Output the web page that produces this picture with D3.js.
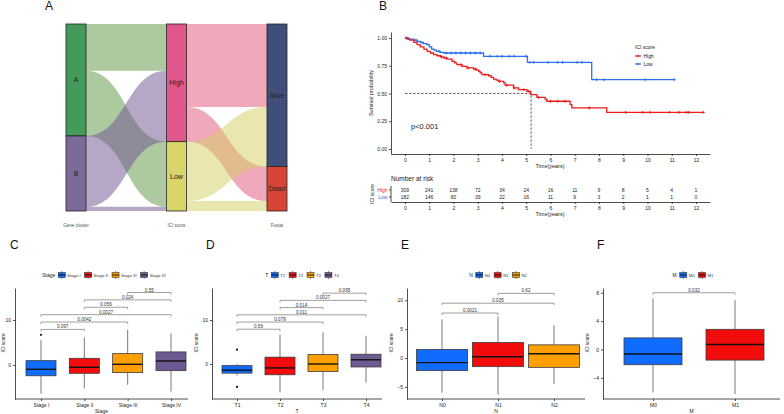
<!DOCTYPE html>
<html><head><meta charset="utf-8">
<script src="https://cdn.jsdelivr.net/npm/d3@7"></script>
<style>body{margin:0;background:#fff;} svg{display:block;font-family:"Liberation Sans",Arial,sans-serif;}</style>
</head><body><svg id="c" width="784" height="414"></svg>
<script>
// ================= DATA =================
// Panel A: alluvial
const sankeyAxes = ["Gene cluster","ICI score","Fustat"];
const geneCluster = ["A","B"];
const iciScore = ["High","Low"];
const fustat = ["Alive","Dead"];
const flow1From = ["A","A","B","B"];
const flow1To   = ["High","Low","High","Low"];
const flow1N    = [123,171,186,11];
const flow2From = ["High","High","Low","Low"];
const flow2To   = ["Alive","Dead","Alive","Dead"];
const flow2N    = [218,91,156,26];

// Panel B: Kaplan-Meier
const kmGroups = ["High","Low"];
const highTime = [0,0.1,0.2,0.36,0.5,0.63,0.78,0.91,1.05,1.18,1.32,1.46,1.6,1.73,1.94,2.05,2.14,2.35,2.55,2.83,2.95,3.04,3.1,3.17,3.45,3.55,3.65,3.76,3.86,4.07,4.13,4.48,4.68,5.03,5.19,5.44,5.78,5.85,6.81,6.88,8.32,12.3];
const highSurv = [1.0,0.99,0.98,0.96,0.94,0.92,0.90,0.88,0.865,0.85,0.84,0.83,0.82,0.81,0.79,0.775,0.76,0.745,0.73,0.72,0.71,0.70,0.685,0.67,0.66,0.645,0.63,0.62,0.61,0.595,0.575,0.55,0.535,0.52,0.49,0.465,0.45,0.43,0.40,0.37,0.33,0.33];
const highCensT = [1.5,1.7,2.3,2.6,2.9,3.3,3.9,4.2,4.5,4.9,5.1,5.5,6.0,6.3,6.6,7.6,9.1,9.8,10.1,10.9,11.3,11.6,11.7,12.3];
const lowTime = [0,0.15,0.36,0.5,0.63,0.75,0.9,1.0,1.1,1.2,1.3,1.45,1.6,3.24,5.05,7.7,11.1];
const lowSurv = [1.0,0.99,0.98,0.97,0.96,0.95,0.94,0.92,0.90,0.89,0.88,0.87,0.865,0.835,0.78,0.625,0.625];
const lowCensT = [0.05,0.45,0.7,1.4,1.7,1.9,2.1,2.3,2.5,2.7,2.9,3.1,3.5,3.8,4.0,4.3,4.5,5.0,5.15,5.3,5.9,6.3,6.5,7.1,7.3,7.9,8.2,9.9,11.1];
const riskTimes = [0,1,2,3,4,5,6,7,8,9,10,11,12];
const riskHigh = [309,241,138,72,34,24,16,11,9,8,5,4,1];
const riskLow  = [182,146,82,39,22,16,11,9,3,2,1,1,0];
const pText = "p<0.001";
const medianTime = 5.2;

// Panel C: Stage  [lower whisker, Q1, median, Q3, upper whisker]
const stageCats = ["Stage I","Stage II","Stage III","Stage IV"];
const stageStats = [[-6.4,-2.4,-0.96,0.96,5.56],[-5.2,-1.85,-0.52,1.48,6.1],[-4.4,-1.7,0.15,2.52,7.8],[-5.9,-1.26,0.89,2.9,7.0]];
const stageOut = [[6.7],[],[],[]];
const stagePairs = [[0,1],[0,2],[0,3],[1,2],[1,3],[2,3]];
const stageP = ["0.097","0.0042","0.0027","0.056","0.024","0.55"];

// Panel D: T
const tCats = ["T1","T2","T3","T4"];
const tStats = [[-2.6,-2.07,-1.4,-0.37,0],[-6.44,-2.44,-0.89,1.56,6.67],[-5.9,-1.7,0,2.15,7.2],[-4.2,-0.67,0.96,2.22,6.4]];
const tOut = [[3.26,-5.2],[],[],[]];
const tPairs = [[0,1],[0,2],[0,3],[1,2],[1,3],[2,3]];
const tP = ["0.56","0.079","0.011","0.014","0.0027","0.095"];

// Panel E: N
const nCats = ["N0","N1","N2"];
const nStats = [[-6.0,-2.17,-0.79,1.5,6.7],[-6.3,-1.48,0.23,2.69,7.2],[-4.5,-1.6,0.75,2.29,5.7]];
const nOut = [[],[],[]];
const nPairs = [[0,1],[0,2],[1,2]];
const nP = ["0.0021","0.035","0.62"];

// Panel F: M
const mCats = ["M0","M1"];
const mStats = [[-6.06,-2.15,-0.65,1.63,7.2],[-6.3,-1.5,0.7,2.84,7.0]];
const mOut = [[],[]];
const mPairs = [[0,1]];
const mP = ["0.032"];

// ================= DRAW =================
const svg = d3.select("#c");
const FONT_TXT = "#222";

function letter(t,x,y){ svg.append("text").attr("x",x).attr("y",y).attr("font-size",12).attr("fill","#111").text(t); }
letter("A",45,10); letter("B",379,10);
letter("C",10,249); letter("D",206,249); letter("E",401,249); letter("F",597,249);

// ---------- Panel A ----------
(function(){
  const yTop=24, yBot=211, w=20;
  const ax = d3.scalePoint().domain(sankeyAxes).range([66,267]);
  const total = d3.sum(flow1N);
  const ys = d3.scaleLinear().domain([0,total]).range([yTop,yBot]);
  const stratColor = {A:"#449A5B",B:"#7C6A9B",High:"#E1578B",Low:"#D8D56B",Alive:"#404F7A",Dead:"#D74634"};
  const flowColor = {A:"#5A9442",B:"#6E508F",High:"#E05478",Low:"#D6CE62"};
  const levels = [geneCluster, iciScore, fustat];
  // stratum totals
  const totals = [{}, {}, {}];
  geneCluster.forEach(k=>totals[0][k]=d3.sum(flow1N.filter((n,i)=>flow1From[i]===k)));
  iciScore.forEach(k=>totals[1][k]=d3.sum(flow1N.filter((n,i)=>flow1To[i]===k)));
  fustat.forEach(k=>totals[2][k]=d3.sum(flow2N.filter((n,i)=>flow2To[i]===k)));
  const starts = [{}, {}, {}];
  levels.forEach((lv,a)=>{ let c=0; lv.forEach(k=>{starts[a][k]=c; c+=totals[a][k];}); });

  function drawFlows(from,to,n,a,lvFrom,lvTo){
    const idx = d3.range(n.length);
    const srcOff={}, tgtOff={};
    const srcPos={}, tgtPos={};
    // source side: ordered by target
    lvFrom.forEach(f=>{ let c=starts[a][f]; lvTo.forEach(t=>{ idx.filter(i=>from[i]===f&&to[i]===t).forEach(i=>{srcPos[i]=c; c+=n[i];}); }); });
    lvTo.forEach(t=>{ let c=starts[a+1][t]; lvFrom.forEach(f=>{ idx.filter(i=>from[i]===f&&to[i]===t).forEach(i=>{tgtPos[i]=c; c+=n[i];}); }); });
    const x0 = ax(sankeyAxes[a])+w, x1 = ax(sankeyAxes[a+1]);
    const xm=(x0+x1)/2;
    idx.forEach(i=>{
      const a0=ys(srcPos[i]), a1=ys(srcPos[i]+n[i]), b0=ys(tgtPos[i]), b1=ys(tgtPos[i]+n[i]);
      const p=`M${x0},${a0}C${xm},${a0} ${xm},${b0} ${x1},${b0}L${x1},${b1}C${xm},${b1} ${xm},${a1} ${x0},${a1}Z`;
      svg.append("path").attr("d",p).attr("fill",flowColor[from[i]]).attr("fill-opacity",0.5);
    });
  }
  drawFlows(flow1From,flow1To,flow1N,0,geneCluster,iciScore);
  drawFlows(flow2From,flow2To,flow2N,1,iciScore,fustat);
  levels.forEach((lv,a)=>{
    const x=ax(sankeyAxes[a]);
    lv.forEach(k=>{
      const y0=ys(starts[a][k]), y1=ys(starts[a][k]+totals[a][k]);
      svg.append("rect").attr("x",x).attr("y",y0).attr("width",w).attr("height",y1-y0)
        .attr("fill",stratColor[k]).attr("stroke","#222").attr("stroke-width",0.8);
      svg.append("text").attr("x",x+w/2).attr("y",(y0+y1)/2+2.5).attr("text-anchor","middle")
        .attr("font-size",7).attr("fill","#222").text(k);
    });
    svg.append("line").attr("x1",x).attr("x2",x+w).attr("y1",yTop-0.6).attr("y2",yTop-0.6).attr("stroke","#aaa").attr("stroke-width",0.8);
    svg.append("text").attr("x",x+w/2).attr("y",227).attr("text-anchor","middle").attr("font-size",4.5).attr("fill","#555").text(sankeyAxes[a]);
  });
})();

// ---------- Panel B ----------
(function(){
  const red="#EE1C1C", blue="#2B6FEB";
  const xk = d3.scaleLinear().domain([-0.577,12.577]).range([391,710]);
  const yk = d3.scaleLinear().domain([-0.045,1.054]).range([154,32]);
  const gx = svg.append("g").attr("transform","translate(0,154)")
    .call(d3.axisBottom(xk).tickValues(riskTimes).tickSize(2).tickSizeOuter(0).tickPadding(2));
  const gy = svg.append("g").attr("transform","translate(391,0)")
    .call(d3.axisLeft(yk).tickValues([0,0.25,0.5,0.75,1]).tickFormat(d3.format(".2f")).tickSize(2).tickSizeOuter(0).tickPadding(2));
  [gx,gy].forEach(g=>{ g.selectAll("text").attr("font-size",5).attr("fill",FONT_TXT).attr("font-family",null);
    g.selectAll("line,path").attr("stroke","#222").attr("stroke-width",0.8); });
  svg.append("text").attr("x",550).attr("y",168).attr("text-anchor","middle").attr("font-size",5.5).attr("fill",FONT_TXT).text("Time(years)");
  svg.append("text").attr("transform","translate(373,93) rotate(-90)").attr("text-anchor","middle").attr("font-size",5.5).attr("fill",FONT_TXT).text("Survival probability");
  // median
  svg.append("path").attr("d",`M${xk(0)},${yk(0.5)}H${xk(medianTime)}V${yk(0)}`).attr("fill","none")
    .attr("stroke","#222").attr("stroke-width",0.7).attr("stroke-dasharray","2.5,1.5");
  const line = d3.line().x(d=>xk(d[0])).y(d=>yk(d[1])).curve(d3.curveStepAfter);
  function survAt(T,S,t){ let s=S[0]; for(let i=0;i<T.length;i++){ if(T[i]<=t) s=S[i]; } return s; }
  function curve(T,S,C,col){
    svg.append("path").attr("d",line(T.map((t,i)=>[t,S[i]]))).attr("fill","none").attr("stroke",col).attr("stroke-width",1.3);
    C.forEach(t=>{
      svg.append("path").attr("transform",`translate(${xk(t)},${yk(survAt(T,S,t))})`)
        .attr("d","M-1.6,0H1.6M0,-1.6V1.6").attr("stroke",col).attr("stroke-width",0.8);
    });
  }
  curve(lowTime,lowSurv,lowCensT,blue);
  curve(highTime,highSurv,highCensT,red);
  svg.append("text").attr("x",411).attr("y",129).attr("font-size",7.5).attr("fill",FONT_TXT).text(pText);
  // legend
  svg.append("text").attr("x",635).attr("y",49).attr("font-size",5).attr("fill",FONT_TXT).text("ICI score");
  [[kmGroups[0],red,56],[kmGroups[1],blue,64]].forEach(([lab,col,yy])=>{
    svg.append("line").attr("x1",635).attr("x2",641).attr("y1",yy).attr("y2",yy).attr("stroke",col).attr("stroke-width",1.2);
    svg.append("path").attr("transform",`translate(638,${yy})`).attr("d","M-1.3,0H1.3M0,-1.3V1.3").attr("stroke",col).attr("stroke-width",0.7);
    svg.append("text").attr("x",643.5).attr("y",yy+1.8).attr("font-size",5).attr("fill",FONT_TXT).text(lab);
  });
  // risk table
  svg.append("text").attr("x",391).attr("y",181).attr("font-size",6.5).attr("fill",FONT_TXT).text("Number at risk");
  const rowY = {High:190, Low:197};
  const gt = svg.append("g").attr("transform","translate(0,202)")
    .call(d3.axisBottom(xk).tickValues(riskTimes).tickSize(2).tickSizeOuter(0).tickPadding(2));
  gt.selectAll("text").attr("font-size",5).attr("fill",FONT_TXT).attr("font-family",null);
  gt.selectAll("line,path").attr("stroke","#222").attr("stroke-width",0.8);
  svg.append("line").attr("x1",391).attr("x2",391).attr("y1",186).attr("y2",202).attr("stroke","#222").attr("stroke-width",0.8);
  [[kmGroups[0],riskHigh,red],[kmGroups[1],riskLow,blue]].forEach(([lab,vals,col])=>{
    const yy=rowY[lab];
    vals.forEach((v,i)=>svg.append("text").attr("x",xk(riskTimes[i])).attr("y",yy+1.8).attr("text-anchor","middle").attr("font-size",5).attr("fill",FONT_TXT).text(v));
    svg.append("text").attr("x",387.5).attr("y",yy+1.8).attr("text-anchor","end").attr("font-size",5).attr("fill",col).text(lab);
    svg.append("line").attr("x1",389).attr("x2",391).attr("y1",yy).attr("y2",yy).attr("stroke","#222").attr("stroke-width",0.8);
  });
  svg.append("text").attr("transform","translate(374,194) rotate(-90)").attr("text-anchor","middle").attr("font-size",5).attr("fill",FONT_TXT).text("ICI score");
  svg.append("text").attr("x",550).attr("y",216).attr("text-anchor","middle").attr("font-size",5.5).attr("fill",FONT_TXT).text("Time(years)");
})();

// ---------- Box panels ----------
const boxColors = ["#0F6CFF","#F20C0C","#FFA000","#6E5A93"];
function boxPanel(cfg){
  const x = d3.scalePoint().domain(cfg.cats).range(cfg.catRange);
  const y = d3.scaleLinear().domain(cfg.yDomain).range([399,288]);
  const g = svg.append("g");
  const gx = g.append("g").attr("transform","translate(0,399)")
    .call(d3.axisBottom(x).tickSize(2).tickPadding(2));
  gx.select(".domain").remove();
  g.append("line").attr("x1",cfg.ax0).attr("x2",cfg.ax1).attr("y1",399).attr("y2",399).attr("stroke","#222").attr("stroke-width",0.8);
  const gy = g.append("g").attr("transform",`translate(${cfg.ax0},0)`)
    .call(d3.axisLeft(y).tickValues(cfg.yTicks).tickSize(2).tickSizeOuter(0).tickPadding(2));
  [gx,gy].forEach(a=>{ a.selectAll("text").attr("font-size",5).attr("fill",FONT_TXT).attr("font-family",null);
    a.selectAll("line,path").attr("stroke","#222").attr("stroke-width",0.8); });
  g.append("text").attr("x",(cfg.ax0+cfg.ax1)/2).attr("y",413).attr("text-anchor","middle").attr("font-size",5).attr("fill",FONT_TXT).text(cfg.title);
  g.append("text").attr("transform",`translate(${cfg.yTitleX},343) rotate(-90)`).attr("text-anchor","middle").attr("font-size",4.8).attr("fill",FONT_TXT).text("ICI score");
  // boxes
  cfg.cats.forEach((c,i)=>{
    const s=cfg.stats[i], cx=x(c), hw=cfg.boxW/2;
    g.append("line").attr("x1",cx).attr("x2",cx).attr("y1",y(s[0])).attr("y2",y(s[1])).attr("stroke","#555").attr("stroke-width",0.8);
    g.append("line").attr("x1",cx).attr("x2",cx).attr("y1",y(s[3])).attr("y2",y(s[4])).attr("stroke","#555").attr("stroke-width",0.8);
    g.append("rect").attr("x",cx-hw).attr("y",y(s[3])).attr("width",cfg.boxW).attr("height",y(s[1])-y(s[3]))
      .attr("fill",boxColors[i]).attr("stroke","#3a3a3a").attr("stroke-width",0.8);
    g.append("line").attr("x1",cx-hw).attr("x2",cx+hw).attr("y1",y(s[2])).attr("y2",y(s[2])).attr("stroke","#111").attr("stroke-width",1.4);
    cfg.out[i].forEach(o=>g.append("circle").attr("cx",cx).attr("cy",y(o)).attr("r",1.1).attr("fill","#111"));
  });
  // brackets
  cfg.pairs.forEach((p,k)=>{
    const yb = y(cfg.brStart + k*cfg.brStep);
    const xa = x(cfg.cats[p[0]]), xb = x(cfg.cats[p[1]]);
    g.append("path").attr("d",`M${xa},${yb+2}V${yb}H${xb}V${yb+2}`).attr("fill","none").attr("stroke","#777").attr("stroke-width",0.7);
    g.append("text").attr("x",(xa+xb)/2).attr("y",yb-1).attr("text-anchor","middle").attr("font-size",4.6).attr("fill","#333").text(cfg.pvals[k]);
  });
  // legend
  const lg = g.append("g");
  let cx0 = 0;
  const t = lg.append("text").attr("x",0).attr("y",276.7).attr("font-size",5).attr("fill",FONT_TXT).text(cfg.title);
  cx0 = t.node().getComputedTextLength()+3;
  cfg.cats.forEach((c,i)=>{
    const kx=cx0;
    lg.append("line").attr("x1",kx+3.5).attr("x2",kx+3.5).attr("y1",271).attr("y2",279).attr("stroke","#555").attr("stroke-width",0.7);
    lg.append("rect").attr("x",kx).attr("y",272.5).attr("width",7).attr("height",5).attr("fill",boxColors[i]).attr("stroke","#3a3a3a").attr("stroke-width",0.6);
    lg.append("line").attr("x1",kx).attr("x2",kx+7).attr("y1",275).attr("y2",275).attr("stroke","#111").attr("stroke-width",0.9);
    const tt = lg.append("text").attr("x",kx+9).attr("y",276.7).attr("font-size",4.2).attr("fill","#333").text(c);
    cx0 = kx+9+tt.node().getComputedTextLength()+4;
  });
  const wTot = cx0-4;
  lg.attr("transform",`translate(${cfg.legendCx - wTot/2},0)`);
}

boxPanel({cats:stageCats,stats:stageStats,out:stageOut,pairs:stagePairs,pvals:stageP,title:"Stage",
  catRange:[41,171],ax0:15,ax1:188,yDomain:[-7.56,17.1],yTicks:[0,10],boxW:30,yTitleX:5,
  brStart:7.9,brStep:1.64,legendCx:104});
boxPanel({cats:tCats,stats:tStats,out:tOut,pairs:tPairs,pvals:tP,title:"T",
  catRange:[237,366],ax0:212,ax1:382,yDomain:[-7.95,17.27],yTicks:[0,10],boxW:30,yTitleX:198,
  brStart:7.9,brStep:1.64,legendCx:302});
boxPanel({cats:nCats,stats:nStats,out:nOut,pairs:nPairs,pvals:nP,title:"N",
  catRange:[442,554],ax0:407,ax1:585,yDomain:[-7.08,12.13],yTicks:[-5,0,5,10],boxW:51,yTitleX:393,
  brStart:7.8,brStep:1.7,legendCx:498});
boxPanel({cats:mCats,stats:mStats,out:mOut,pairs:mPairs,pvals:mP,title:"M",
  catRange:[653,735],ax0:603,ax1:780,yDomain:[-6.99,8.67],yTicks:[-4,0,4,8],boxW:58,yTitleX:589,
  brStart:8.0,brStep:1.7,legendCx:693});
</script></body></html>
